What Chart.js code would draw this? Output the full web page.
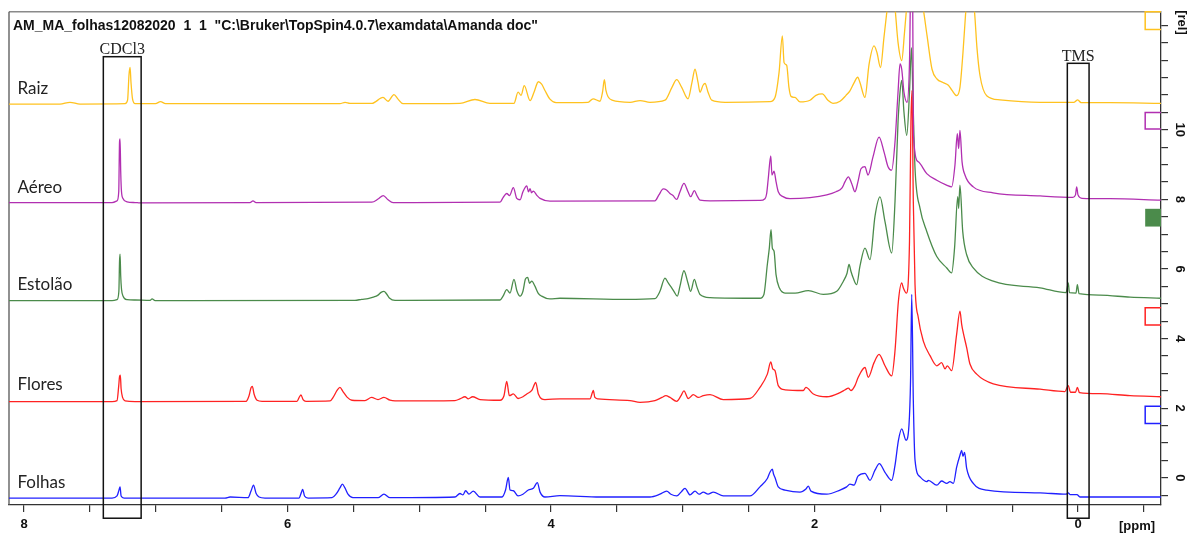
<!DOCTYPE html>
<html><head><meta charset="utf-8">
<script src="https://cdn.jsdelivr.net/npm/chart.js@4.4.1/dist/chart.umd.min.js"></script>
<style>html,body{margin:0;padding:0;background:#fff;}canvas{display:block}</style>
</head><body>
<canvas id="c" width="1197" height="538"></canvas>
<script>
// ---- data: [ppm, rel] ----
const raiz = [[8.114,10.74],[7.727,10.74],[7.651,10.79],[7.575,10.74],[7.233,10.75],[7.214,10.85],[7.203,11.59],[7.195,11.79],[7.188,11.36],[7.176,10.88],[7.157,10.75],[7.002,10.75],[6.964,10.81],[6.926,10.75],[5.602,10.75],[5.563,10.79],[5.526,10.76],[5.359,10.76],[5.275,10.93],[5.237,10.82],[5.192,11.01],[5.161,10.88],[5.123,10.75],[4.691,10.76],[4.577,10.87],[4.463,10.76],[4.281,10.76],[4.250,11.08],[4.227,10.99],[4.203,11.27],[4.159,10.84],[4.129,11.08],[4.096,11.38],[4.071,11.31],[4.046,11.13],[4.008,10.88],[3.962,10.78],[3.719,10.79],[3.681,10.89],[3.628,10.82],[3.609,11.08],[3.595,11.44],[3.583,11.13],[3.567,10.95],[3.537,10.85],[3.400,10.79],[3.324,10.84],[3.249,10.79],[3.135,10.85],[3.082,11.22],[3.046,11.44],[3.008,11.22],[2.960,10.89],[2.930,11.36],[2.907,11.74],[2.884,11.36],[2.869,11.08],[2.846,11.28],[2.831,11.33],[2.808,11.08],[2.780,10.85],[2.679,10.79],[2.338,10.81],[2.300,10.93],[2.269,11.65],[2.244,12.70],[2.231,11.93],[2.211,11.85],[2.194,11.22],[2.178,10.96],[2.148,10.93],[2.110,10.80],[2.034,10.85],[1.989,10.99],[1.941,11.03],[1.898,10.85],[1.860,10.76],[1.806,10.82],[1.761,10.99],[1.731,11.12],[1.700,11.35],[1.672,11.51],[1.655,11.36],[1.617,10.93],[1.586,11.88],[1.548,12.41],[1.526,12.22],[1.499,11.79],[1.473,12.65],[1.450,13.42],[1.419,14.51],[1.389,13.51],[1.366,12.51],[1.338,11.99],[1.317,12.79],[1.298,13.65],[1.260,15.36],[1.214,14.22],[1.176,13.51],[1.146,12.71],[1.108,11.74],[1.070,11.46],[1.025,11.36],[0.984,11.28],[0.956,11.13],[0.921,10.98],[0.896,11.22],[0.873,12.22],[0.850,13.51],[0.824,14.79],[0.797,13.93],[0.782,13.22],[0.767,12.36],[0.744,11.56],[0.693,10.98],[0.592,10.86],[0.288,10.79],[0.030,10.79],[0.002,10.86],[-0.023,10.78],[-0.243,10.78],[-0.630,10.76]];
const aereo = [[8.114,7.91],[7.332,7.91],[7.294,7.96],[7.281,8.22],[7.275,9.65],[7.271,9.74],[7.266,8.79],[7.260,8.22],[7.248,8.02],[7.218,7.93],[7.157,7.91],[7.120,7.90],[6.285,7.91],[6.262,7.96],[6.239,7.91],[5.359,7.92],[5.313,8.01],[5.273,8.11],[5.237,7.99],[5.199,7.91],[4.387,7.92],[4.364,8.05],[4.336,8.17],[4.315,8.11],[4.286,8.34],[4.260,8.03],[4.235,7.99],[4.213,8.22],[4.184,8.39],[4.171,8.22],[4.159,8.31],[4.148,8.19],[4.134,8.24],[4.106,8.11],[4.083,8.03],[4.008,7.95],[3.211,7.96],[3.181,8.13],[3.148,8.30],[3.123,8.27],[3.097,8.17],[3.074,8.11],[3.046,8.00],[3.021,8.22],[2.991,8.46],[2.960,8.22],[2.940,8.08],[2.912,8.25],[2.892,8.11],[2.869,7.98],[2.793,7.96],[2.414,7.97],[2.376,8.02],[2.363,8.17],[2.351,8.60],[2.332,9.25],[2.323,8.70],[2.307,8.81],[2.292,8.51],[2.275,8.22],[2.239,8.08],[2.186,8.02],[2.034,8.05],[1.907,8.13],[1.837,8.22],[1.791,8.33],[1.768,8.51],[1.743,8.65],[1.718,8.46],[1.693,8.22],[1.670,8.51],[1.647,8.88],[1.617,8.94],[1.594,8.70],[1.556,9.22],[1.510,9.79],[1.472,9.36],[1.442,8.94],[1.414,8.84],[1.389,9.65],[1.366,11.08],[1.351,11.89],[1.338,11.74],[1.321,11.08],[1.298,10.79],[1.279,11.93],[1.268,14.51],[1.256,14.51],[1.249,9.85],[1.212,9.08],[1.148,8.74],[1.072,8.55],[0.998,8.41],[0.959,8.36],[0.934,8.98],[0.916,9.89],[0.906,9.46],[0.896,9.98],[0.880,9.08],[0.858,8.70],[0.795,8.36],[0.645,8.19],[0.288,8.10],[0.038,8.06],[0.019,8.13],[0.010,8.36],[0.000,8.13],[-0.030,8.03],[-0.243,8.02],[-0.630,7.98]];
const estolao = [[8.114,5.09],[7.332,5.09],[7.294,5.12],[7.280,5.36],[7.275,6.22],[7.271,6.43],[7.266,5.79],[7.260,5.42],[7.248,5.22],[7.218,5.12],[7.157,5.11],[7.043,5.10],[7.028,5.14],[7.005,5.09],[5.488,5.10],[5.437,5.13],[5.389,5.15],[5.349,5.19],[5.313,5.25],[5.290,5.33],[5.268,5.36],[5.249,5.29],[5.227,5.17],[5.184,5.10],[4.387,5.11],[4.364,5.22],[4.336,5.41],[4.311,5.31],[4.281,5.70],[4.258,5.36],[4.235,5.22],[4.213,5.36],[4.194,5.71],[4.177,5.76],[4.163,5.59],[4.146,5.65],[4.121,5.50],[4.098,5.31],[4.071,5.22],[4.008,5.14],[3.932,5.16],[3.423,5.13],[3.211,5.15],[3.173,5.36],[3.135,5.74],[3.110,5.60],[3.084,5.46],[3.067,5.36],[3.041,5.22],[3.021,5.51],[2.991,5.95],[2.960,5.59],[2.940,5.36],[2.912,5.70],[2.892,5.48],[2.869,5.27],[2.793,5.18],[2.414,5.16],[2.384,5.27],[2.358,6.13],[2.343,6.60],[2.330,7.13],[2.320,6.60],[2.307,6.51],[2.292,5.84],[2.267,5.46],[2.224,5.31],[2.148,5.31],[2.047,5.38],[1.933,5.27],[1.831,5.36],[1.781,5.65],[1.753,5.88],[1.738,6.13],[1.723,5.93],[1.706,5.74],[1.680,5.55],[1.655,6.08],[1.617,6.60],[1.579,6.27],[1.541,7.51],[1.503,8.07],[1.465,7.36],[1.414,6.46],[1.389,7.93],[1.366,10.22],[1.351,11.08],[1.338,11.42],[1.321,10.51],[1.300,9.84],[1.279,11.08],[1.264,12.36],[1.252,10.79],[1.237,8.89],[1.199,7.74],[1.148,7.08],[1.072,6.36],[0.996,6.03],[0.959,5.89],[0.937,6.60],[0.913,8.08],[0.906,7.74],[0.896,8.41],[0.875,7.08],[0.845,6.41],[0.795,6.03],[0.643,5.65],[0.288,5.46],[0.091,5.32],[0.081,5.48],[0.074,5.60],[0.065,5.32],[0.015,5.31],[0.005,5.55],[-0.008,5.29],[-0.167,5.25],[-0.395,5.19],[-0.630,5.16]];
const flores = [[8.114,2.19],[7.332,2.19],[7.294,2.22],[7.281,2.65],[7.275,2.91],[7.269,2.95],[7.263,2.56],[7.252,2.31],[7.233,2.21],[7.157,2.19],[6.315,2.20],[6.292,2.36],[6.277,2.59],[6.267,2.63],[6.254,2.41],[6.231,2.23],[6.193,2.20],[5.928,2.20],[5.909,2.33],[5.898,2.38],[5.882,2.25],[5.860,2.20],[5.677,2.21],[5.654,2.31],[5.624,2.51],[5.602,2.60],[5.579,2.48],[5.548,2.32],[5.511,2.23],[5.412,2.22],[5.362,2.31],[5.313,2.25],[5.268,2.31],[5.222,2.23],[5.184,2.21],[4.729,2.22],[4.691,2.27],[4.653,2.33],[4.628,2.27],[4.595,2.33],[4.539,2.25],[4.387,2.23],[4.357,2.36],[4.336,2.77],[4.316,2.36],[4.286,2.41],[4.250,2.28],[4.213,2.33],[4.184,2.41],[4.146,2.51],[4.116,2.74],[4.096,2.41],[4.046,2.25],[3.932,2.27],[3.704,2.27],[3.686,2.45],[3.679,2.51],[3.667,2.31],[3.643,2.27],[3.400,2.22],[3.324,2.17],[3.211,2.22],[3.158,2.31],[3.128,2.36],[3.097,2.31],[3.046,2.20],[3.013,2.36],[2.991,2.50],[2.958,2.28],[2.920,2.39],[2.882,2.31],[2.844,2.36],[2.793,2.39],[2.692,2.25],[2.490,2.28],[2.414,2.60],[2.358,2.98],[2.332,3.33],[2.317,3.13],[2.300,3.08],[2.275,2.65],[2.224,2.53],[2.085,2.51],[2.065,2.60],[2.009,2.41],[1.907,2.33],[1.806,2.45],[1.768,2.53],[1.743,2.58],[1.723,2.51],[1.693,2.65],[1.668,2.89],[1.617,3.17],[1.592,2.89],[1.548,3.31],[1.510,3.55],[1.465,3.22],[1.414,2.93],[1.389,3.65],[1.363,5.08],[1.338,5.60],[1.326,5.46],[1.302,5.31],[1.279,6.79],[1.268,10.22],[1.260,11.13],[1.250,7.93],[1.237,5.55],[1.212,4.60],[1.174,3.93],[1.123,3.51],[1.072,3.22],[1.035,3.31],[1.009,3.13],[0.992,3.22],[0.959,3.08],[0.921,4.13],[0.896,4.79],[0.883,4.41],[0.871,4.17],[0.845,3.74],[0.820,3.27],[0.769,2.98],[0.643,2.70],[0.288,2.55],[0.099,2.48],[0.074,2.65],[0.057,2.46],[0.019,2.46],[0.005,2.60],[-0.011,2.45],[-0.167,2.42],[-0.395,2.36],[-0.630,2.33]];
const folhas = [[8.114,-0.58],[7.332,-0.58],[7.294,-0.52],[7.279,-0.35],[7.271,-0.26],[7.263,-0.52],[7.241,-0.58],[6.474,-0.58],[6.436,-0.55],[6.300,-0.57],[6.277,-0.38],[6.258,-0.21],[6.239,-0.44],[6.216,-0.55],[6.171,-0.58],[5.913,-0.58],[5.894,-0.41],[5.885,-0.33],[5.871,-0.52],[5.844,-0.58],[5.662,-0.57],[5.632,-0.47],[5.602,-0.29],[5.584,-0.18],[5.564,-0.29],[5.541,-0.47],[5.503,-0.57],[5.313,-0.57],[5.268,-0.47],[5.222,-0.57],[4.729,-0.55],[4.691,-0.45],[4.668,-0.49],[4.648,-0.37],[4.623,-0.47],[4.590,-0.38],[4.539,-0.55],[4.372,-0.55],[4.345,-0.35],[4.324,0.01],[4.311,-0.35],[4.286,-0.37],[4.250,-0.52],[4.213,-0.47],[4.172,-0.35],[4.134,-0.30],[4.104,-0.14],[4.083,-0.41],[4.046,-0.55],[3.932,-0.51],[3.628,-0.55],[3.249,-0.55],[3.173,-0.47],[3.122,-0.38],[3.090,-0.47],[3.046,-0.52],[3.013,-0.41],[2.983,-0.30],[2.945,-0.49],[2.907,-0.38],[2.877,-0.47],[2.844,-0.41],[2.808,-0.47],[2.768,-0.41],[2.692,-0.52],[2.490,-0.52],[2.414,-0.26],[2.358,-0.02],[2.338,0.16],[2.320,0.25],[2.311,0.11],[2.300,0.01],[2.275,-0.26],[2.224,-0.35],[2.110,-0.41],[2.065,-0.32],[2.047,-0.24],[2.027,-0.38],[1.907,-0.47],[1.806,-0.35],[1.756,-0.26],[1.731,-0.18],[1.700,-0.21],[1.670,0.05],[1.617,0.13],[1.579,-0.07],[1.541,0.22],[1.508,0.41],[1.465,0.16],[1.414,-0.07],[1.389,0.36],[1.363,1.08],[1.338,1.41],[1.305,1.08],[1.283,1.51],[1.271,2.79],[1.262,5.27],[1.250,2.22],[1.237,0.51],[1.199,0.03],[1.148,-0.11],[1.136,-0.07],[1.072,-0.21],[1.035,-0.09],[0.996,-0.16],[0.972,-0.11],[0.946,-0.16],[0.921,0.31],[0.896,0.65],[0.883,0.79],[0.873,0.62],[0.861,0.73],[0.845,0.27],[0.795,-0.16],[0.693,-0.35],[0.288,-0.43],[0.091,-0.47],[0.074,-0.43],[0.061,-0.48],[0.008,-0.48],[-0.015,-0.55],[-0.630,-0.55]];

const seriesNames = ['Raiz', 'Aéreo', 'Estolão', 'Flores', 'Folhas'];
const seriesData = [raiz, aereo, estolao, flores, folhas];
const seriesColors = ['#ffc21f', '#b12fb1', '#4b8b4b', '#ff2222', '#2020ff'];
const seriesOrder = [4, 0, 3, 2, 1];

// axis settings (data units)
const xMin = -0.630, xMax = 8.114;
const yMin = -0.78, yMax = 13.39;
const tickStep = 0.5;

// annotations (data units)
const labelPpm = 8.05;
const labelRel = [11.03, 8.17, 5.41, 2.53, -0.29];
const markerRel = [[13.39, 12.88], [10.50, 10.02], [7.73, 7.22], [4.89, 4.39], [2.06, 1.56]];
const markerPpm = -0.510;
const markerFilled = [false, false, true, false, false];
const boxes = [
  {text: 'CDCl3', x0: 7.398, x1: 7.111, top: 12.10, bottom: -1.16},
  {text: 'TMS', x0: 0.081, x1: -0.084, top: 11.91, bottom: -1.16}
];
const titleText = 'AM_MA_folhas12082020  1  1  "C:\\Bruker\\TopSpin4.0.7\\examdata\\Amanda doc"';

const datasets = seriesData.map((s, i) => ({
  label: seriesNames[i],
  data: s.map(p => ({x: p[0], y: p[1]})),
  borderColor: seriesColors[i],
  borderWidth: 1.3,
  pointRadius: 0,
  cubicInterpolationMode: 'monotone',
  fill: false,
  order: seriesOrder[i]
}));

const isEven = v => Math.abs(v - Math.round(v)) < 1e-6 && Math.round(v) % 2 === 0;

const deco = {
  id: 'deco',
  beforeDatasetsDraw(chart) {
    const {ctx, chartArea: a} = chart;
    ctx.save();
    ctx.strokeStyle = '#8a8a8a'; ctx.lineWidth = 1.5;
    ctx.beginPath(); ctx.moveTo(a.left, a.top); ctx.lineTo(a.right, a.top); ctx.stroke();
    ctx.strokeStyle = '#555'; ctx.lineWidth = 1.3;
    ctx.beginPath(); ctx.moveTo(a.left, a.top); ctx.lineTo(a.left, a.bottom); ctx.stroke();
    ctx.restore();
  },
  afterDatasetsDraw(chart) {
    const {ctx, chartArea: a, scales: {x, y}} = chart;
    ctx.save();
    ctx.fillStyle = '#111';
    ctx.font = 'bold 14px "Liberation Sans", Arial, sans-serif';
    ctx.textBaseline = 'alphabetic'; ctx.textAlign = 'left';
    ctx.fillText(titleText, a.left + 4, 30);
    ctx.font = '17px Lato, "Open Sans", sans-serif';
    ctx.fillStyle = '#222';
    seriesNames.forEach((n, i) => ctx.fillText(n, x.getPixelForValue(labelPpm), y.getPixelForValue(labelRel[i])));
    ctx.strokeStyle = '#111'; ctx.lineWidth = 1.5;
    ctx.font = '16px "Liberation Serif", "Times New Roman", serif';
    ctx.textAlign = 'center';
    boxes.forEach(b => {
      const l = x.getPixelForValue(b.x0), r = x.getPixelForValue(b.x1);
      const t = y.getPixelForValue(b.top), bt = y.getPixelForValue(b.bottom);
      ctx.strokeRect(l, t, r - l, bt - t);
      ctx.fillStyle = '#222';
      ctx.fillText(b.text, (l + r) / 2, t - 2.5);
    });
    ctx.lineWidth = 1.5;
    markerRel.forEach((m, i) => {
      const l = x.getPixelForValue(markerPpm), r = a.right;
      const t = y.getPixelForValue(m[0]), bt = y.getPixelForValue(m[1]);
      if (markerFilled[i]) { ctx.fillStyle = seriesColors[i]; ctx.fillRect(l, t, r - l, bt - t); }
      else {
        ctx.strokeStyle = seriesColors[i];
        ctx.beginPath(); ctx.moveTo(r, t); ctx.lineTo(l, t); ctx.lineTo(l, bt); ctx.lineTo(r, bt); ctx.stroke();
      }
    });
    ctx.fillStyle = '#111';
    ctx.font = 'bold 13px "Liberation Sans", Arial, sans-serif';
    ctx.textAlign = 'center'; ctx.textBaseline = 'middle';
    ctx.fillText('[ppm]', 1137, 526);
    ctx.translate(1182, 22.5); ctx.rotate(Math.PI / 2);
    ctx.fillText('[rel]', 0, 0);
    ctx.restore();
  }
};

new Chart(document.getElementById('c'), {
  type: 'line',
  data: {datasets},
  options: {
    responsive: false,
    animation: false,
    events: [],
    layout: {padding: {left: 9, top: 9, right: 0, bottom: 0}},
    plugins: {legend: {display: false}, tooltip: {enabled: false}, title: {display: false}},
    scales: {
      x: {
        type: 'linear', reverse: true, min: xMin, max: xMax, position: 'bottom',
        afterFit(s) { s.height = 33; },
        grid: {display: true, drawOnChartArea: false, drawTicks: true, tickLength: 7, color: '#333', lineWidth: 1.2},
        border: {display: true, color: '#333', width: 1.3},
        ticks: {stepSize: tickStep, includeBounds: false, autoSkip: false, maxRotation: 0, padding: 5,
          color: '#111', font: {family: '"Liberation Sans", Arial, sans-serif', size: 13, weight: 'bold'},
          callback: v => isEven(v) ? String(Math.round(v)) : ''}
      },
      y: {
        type: 'linear', min: yMin, max: yMax, position: 'right',
        afterFit(s) { s.width = 36; },
        grid: {display: true, drawOnChartArea: false, drawTicks: true, tickLength: 7, color: '#333', lineWidth: 1.2},
        border: {display: true, color: '#333', width: 1.3},
        ticks: {stepSize: tickStep, includeBounds: false, autoSkip: false, minRotation: -90, maxRotation: -90,
          crossAlign: 'center', padding: 4,
          color: '#111', font: {family: '"Liberation Sans", Arial, sans-serif', size: 13, weight: 'bold'},
          callback: v => (isEven(v) && v < 11) ? String(Math.round(v)) : ''}
      }
    }
  },
  plugins: [deco]
});
</script>
</body></html>
